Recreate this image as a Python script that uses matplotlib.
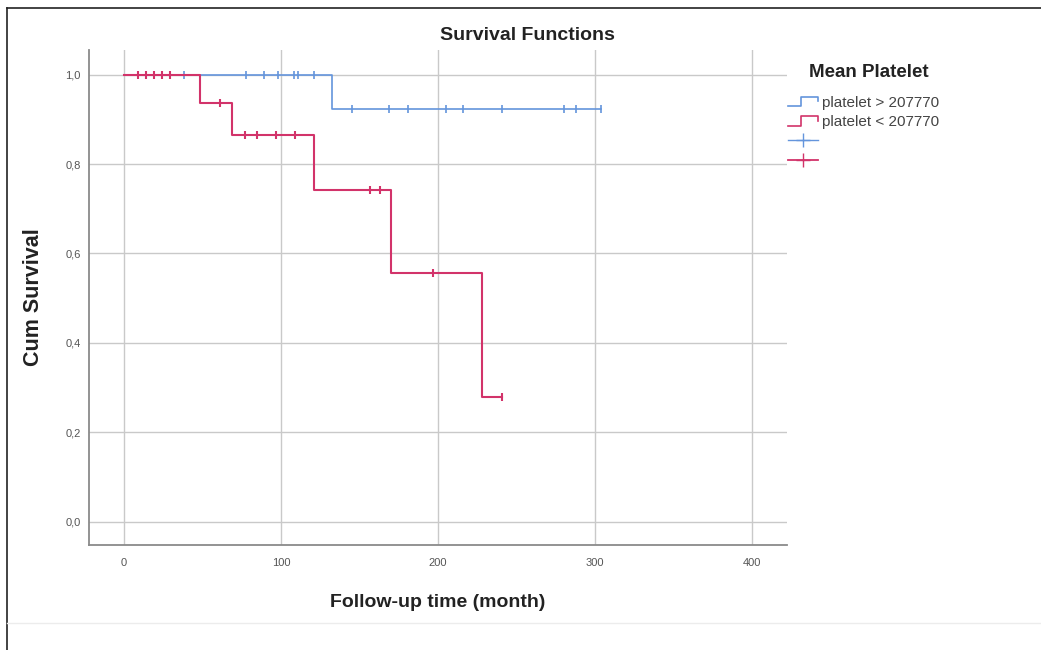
import numpy as np
import matplotlib.pyplot as plt
from matplotlib.lines import Line2D
from matplotlib.legend_handler import HandlerBase
from matplotlib.ticker import FuncFormatter

plt.rcParams['font.family'] = ['Liberation Sans', 'DejaVu Sans']

# Kaplan-Meier steps
hi_times = [0, 132.5, 304]
hi_surv = [1.0, 0.923, 0.923]
hi_cens = [38, 78, 89, 98, 108, 111, 121, 145, 169, 181, 205, 216, 241, 280, 288, 304]

lo_times = [0, 48.5, 69, 121, 170, 228, 241]
lo_surv = [1.0, 0.9375, 0.866, 0.742, 0.556, 0.278, 0.278]
lo_cens = [9, 14, 19, 24, 29, 61, 77, 85, 97, 109, 157, 163, 197, 241]

labels = ["platelet > 207770", "platelet < 207770"]
blue = "#6495dc"
red = "#d2336a"


def surv_at(times, surv, t):
    idx = np.searchsorted(times, t, side="right") - 1
    return np.array(surv)[idx]


class StepHandler(HandlerBase):
    def create_artists(self, legend, orig_handle, xdescent, ydescent,
                       width, height, fontsize, trans):
        w, h = width, height
        xs = np.array([0, 0.45, 0.45, 1.0, 1.0]) * w - xdescent
        ys = np.array([0.1, 0.1, 0.9, 0.9, 0.5]) * h - ydescent
        ln = Line2D(xs, ys, color=orig_handle.get_color(), lw=1.2)
        ln.set_transform(trans)
        return [ln]


fig = plt.figure(figsize=(10.41, 6.5), dpi=100)
ax = fig.add_axes([0.0855, 0.1615, 0.6705, 0.7615])

ax.step(hi_times, hi_surv, where="post", color=blue, lw=1.2)
ax.plot(hi_cens, surv_at(hi_times, hi_surv, hi_cens), ls="none",
        marker="|", ms=6, mew=1.2, color=blue)
ax.step(lo_times, lo_surv, where="post", color=red, lw=1.5)
ax.plot(lo_cens, surv_at(lo_times, lo_surv, lo_cens), ls="none",
        marker="|", ms=6, mew=1.5, color=red)

ax.set_xlim(-22.3, 422.3)
ax.set_ylim(-0.052, 1.055)
ax.set_xticks([0, 100, 200, 300, 400])
ax.set_yticks([0, 0.2, 0.4, 0.6, 0.8, 1.0])
ax.yaxis.set_major_formatter(FuncFormatter(lambda v, p: f"{v:.1f}".replace(".", ",")))
ax.grid(True, color="#c9c9c9", lw=1)
ax.set_axisbelow(True)
ax.tick_params(length=0, labelsize=8, colors="#555555")
ax.tick_params(axis="x", pad=9)
ax.tick_params(axis="y", pad=6)
for s in ["top", "right"]:
    ax.spines[s].set_visible(False)
for s in ["left", "bottom"]:
    ax.spines[s].set_color("#8a8a8a")
    ax.spines[s].set_linewidth(1.3)

ax.set_xlabel("Follow-up time (month)", fontsize=14, fontweight="bold",
              color="#222222", labelpad=19)
ax.set_ylabel("Cum Survival", fontsize=15.5, fontweight="bold",
              color="#222222", labelpad=15)
fig.text(0.507, 0.946, "Survival Functions", ha="center", va="center",
         fontsize=14, fontweight="bold", color="#222222")

# legend
fig.text(0.835, 0.888, "Mean Platelet", ha="center", va="center",
         fontsize=13.5, fontweight="bold", color="#222222")
handles = [Line2D([], [], color=blue), Line2D([], [], color=red),
           Line2D([], [], color=blue, marker="+", ms=10, lw=1),
           Line2D([], [], color=red, marker="+", ms=10, lw=1.3)]
leg = fig.legend(handles, labels + [" ", " "], loc="upper left",
                 bbox_to_anchor=(0.757, 0.853), frameon=False,
                 fontsize=11, handlelength=1.95, handleheight=0.8,
                 handletextpad=0.3, labelspacing=0.36,
                 borderpad=0, borderaxespad=0,
                 handler_map={handles[0]: StepHandler(), handles[1]: StepHandler()})
for t in leg.get_texts():
    t.set_color("#444444")

# outer frame of the exported figure
fig.add_artist(Line2D([0.0067, 1.0], [0.988, 0.988], color="#222222", lw=1.2))
fig.add_artist(Line2D([0.0067, 0.0067], [0.0, 0.988], color="#222222", lw=1.2))
fig.add_artist(Line2D([0.0067, 1.0], [0.0415, 0.0415], color="#ececec", lw=1))

fig.savefig("out.png", dpi=100)
